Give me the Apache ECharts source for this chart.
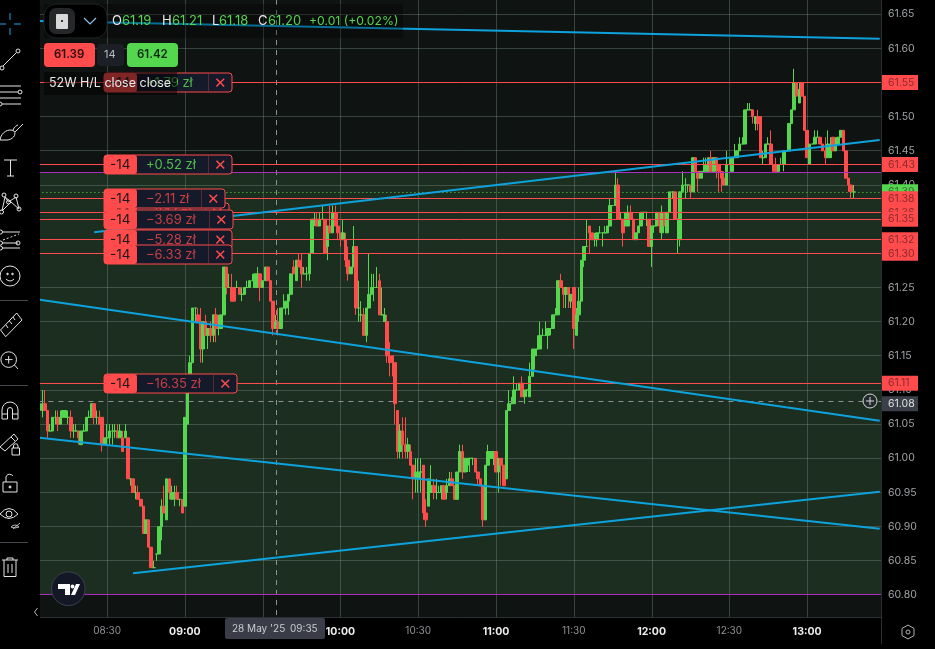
<!DOCTYPE html>
<html>
<head>
<meta charset="utf-8">
<title>Chart</title>
<script src="https://cdn.jsdelivr.net/npm/echarts@6/dist/echarts.min.js"></script>
<style>
  html, body { margin: 0; padding: 0; background: #000; }
  #chart { width: 935px; height: 649px; }
</style>
</head>
<body>
<div id="chart"></div>
<script>
// one row per minute: [open, close, low, high], in cents above 60.00
const bars0804 = [
  [107,108,106,110],[107,108,106,110],[108,107,107,110],[107,104,103,107],[104,104,104,105],
  [104,106,104,106],[106,106,105,107],[106,105,104,107],[105,106,105,107],[106,107,106,107],
  [106,107,106,107],[106,106,105,107],[106,104,103,107],[104,104,103,105],[104,104,104,105],
  [104,103,102,104],[102,104,102,104],[104,104,104,105],[104,106,104,106],[106,106,106,107],
  [106,108,106,108],[108,106,105,108],[106,106,105,107],[106,105,105,107],[106,102,101,106],
  [102,103,102,103]
]
const bars0830 = [
  [103,103,102,105],[103,104,102,105],[104,104,102,105],[104,104,103,105],[104,103,103,105],
  [103,104,103,105],[103,101,101,104],[103,104,103,105],[103,97,97,103],[97,97,96,97],
  [97,95,95,97],[95,95,94,96],[95,94,94,96],[94,93,93,94],[93,89,89,93],
  [89,91,89,91],[91,87,87,91],[87,84,84,87],[84,84,84,85],[86,86,85,86],
  [86,90,86,90],[90,93,88,94],[93,92,92,96],[91,97,91,97],[97,95,94,97],
  [94,95,94,96],[95,95,93,96],[95,94,94,96],[94,94,93,94],[94,92,92,94]
]
const bars0900 = [
  [93,106,93,106],[105,110,105,110],[110,114,110,115],[114,122,114,122],[122,122,120,122],
  [121,120,120,122],[120,116,114,122],[116,120,114,120],[120,118,118,121],[118,119,116,119],
  [119,118,117,120],[118,121,117,121],[121,119,117,122],[119,119,118,121],[119,121,119,121],
  [121,128,121,128],[128,125,124,128],[125,125,125,127],[125,123,123,127],[125,123,123,125],
  [125,125,125,126],[125,124,124,125],[124,124,123,125],[124,125,124,125],[125,125,125,126],
  [125,126,125,126],[126,126,126,127],[125,127,125,127],[125,127,125,128],[127,125,123,127]
]
const bars0930 = [
  [125,126,125,126],[126,128,126,128],[128,126,126,128],[126,123,123,126],[123,119,118,123],
  [119,120,119,121],[120,119,118,122],[119,122,119,122],[122,122,122,124],[122,123,121,123],
  [123,124,121,124],[124,127,124,127],[128,127,127,129],[126,129,126,129],[129,128,128,130],
  [128,127,125,130],[127,127,127,128],[127,127,126,128],[127,130,126,130],[130,135,130,135],
  [135,135,134,136],[135,134,134,136],[134,135,134,136],[135,135,135,137],[135,130,130,135],
  [131,134,129,134],[134,133,133,137],[133,136,133,137],[136,134,134,137],[134,133,132,136]
]
const bars1000 = [
  [133,132,131,133],[132,133,132,135],[132,129,128,133],[129,127,126,131],[127,128,127,128],
  [128,131,128,134],[131,122,121,131],[122,122,120,126],[121,121,120,123],[121,118,118,122],
  [118,122,117,122],[122,124,122,130],[124,125,124,127],[125,125,123,127],[125,125,125,128],
  [126,121,121,127],[121,121,121,125],[120,121,120,122],[120,115,114,121],[115,114,112,117],
  [115,114,112,115],[114,108,105,114],[107,101,100,107],[101,104,100,105],[104,102,100,106],
  [102,101,100,106],[101,102,100,103],[101,99,99,102],[99,97,94,99],[97,98,95,100]
]
const bars1030 = [
  [97,98,95,100],[98,98,95,100],[99,92,91,99],[92,91,90,94],[93,97,93,97],
  [95,96,95,99],[96,95,94,97],[95,95,94,97],[95,95,95,96],[95,96,94,96],
  [96,94,94,96],[95,96,94,97],[96,97,96,98],[97,96,96,98],[96,94,94,96],
  [94,98,94,98],[98,101,98,102],[101,98,97,102],[98,100,98,100],[99,100,98,100],
  [100,100,98,100],[100,100,99,100],[100,98,98,100],[98,97,96,98],[97,96,96,97],
  [96,91,90,96],[91,99,91,99],[99,101,99,102],[100,101,100,101],[100,101,99,101]
]
const bars1100 = [
  [101,98,98,101],[98,100,95,100],[100,99,96,100],[99,96,96,99],[97,107,97,107],
  [107,108,107,110],[108,108,108,109],[108,110,108,112],[110,110,110,111],[110,111,110,111],
  [111,109,109,112],[109,110,108,110],[110,110,109,110],[109,112,109,114],[112,116,112,116],
  [115,116,113,116],[116,116,116,118],[116,118,116,120],[118,118,118,119],[118,118,118,120],
  [118,119,116,119],[119,119,118,119],[119,121,119,121],[121,121,121,122],[121,126,121,126],
  [126,125,125,127],[125,124,122,125],[124,125,122,125],[125,124,122,125],[123,124,122,124]
]
const bars1130 = [
  [125,119,116,125],[118,121,118,122],[121,123,120,125],[123,129,123,129],[129,131,128,131],
  [131,131,131,135],[134,133,130,134],[133,132,132,133],[132,132,131,133],[132,133,131,133],
  [133,133,133,134],[133,133,131,133],[133,133,133,134],[133,134,133,134],[134,137,134,138],
  [137,137,137,137],[137,140,137,142],[140,135,135,141],[135,135,135,136],[135,133,131,135],
  [134,136,134,136],[134,136,134,137],[136,135,135,137],[135,132,132,135],[132,133,132,133],
  [133,134,133,134],[134,136,134,136],[136,136,135,136],[136,136,134,136],[135,131,131,135]
]
const bars1200 = [
  [131,134,128,134],[134,134,133,134],[134,136,134,136],[136,134,133,136],[133,136,132,137],
  [136,134,134,136],[133,136,133,136],[136,139,136,139],[139,139,138,139],[139,135,135,139],
  [135,135,130,135],[132,139,131,139],[139,140,139,142],[140,140,138,141],[140,140,139,140],
  [140,139,138,140],[139,144,139,144],[144,142,142,144],[142,141,139,142],[141,142,141,142],
  [142,142,142,144],[142,143,142,144],[142,144,142,144],[144,142,142,145],[142,144,142,144],
  [144,143,141,144],[143,142,139,143],[142,141,139,142],[141,140,140,142],[140,143,140,145]
]
const bars1230 = [
  [143,143,143,144],[142,144,142,144],[144,144,144,146],[144,145,144,145],[145,146,145,147],
  [146,146,146,147],[146,151,146,151],[151,151,151,152],[151,151,151,152],[151,150,149,151],
  [149,150,148,150],[150,149,148,151],[150,144,144,150],[144,144,143,145],[144,146,144,146],
  [146,146,146,147],[146,143,143,148],[143,142,142,143],[143,142,142,144],[142,143,142,143],
  [143,143,143,144],[143,145,142,145],[145,145,145,145],[145,149,145,149],[149,151,149,151],
  [151,155,151,157],[155,153,153,155],[152,154,152,155],[155,153,153,155],[153,148,148,153]
]
const bars1300 = [
  [148,144,144,148],[143,146,143,146],[146,146,146,146],[146,147,146,148],[147,147,147,148],
  [147,146,146,147],[146,145,145,146],[145,144,143,147],[144,146,144,148],[144,146,144,147],
  [147,145,145,147],[145,146,145,147],[146,147,146,147],[147,148,147,148],[148,145,145,148],
  [145,141,141,145],[141,140,139,141],[140,139,138,140],[139,139,138,140]
]

const yTicks = [60.80,60.85,60.90,60.95,61.00,61.05,61.10,61.15,61.20,61.25,61.30,61.35,61.40,61.45,61.50,61.55,61.60,61.65]
const timeMarks = ['08:30','09:00','09:30','10:00','10:30','11:00','11:30','12:00','12:30','13:00']
const timeLabels = ['08:30','09:00','10:00','10:30','11:00','11:30','12:00','12:30','13:00']
const boldLabels = ['09:00','10:00','11:00','12:00','13:00']

// open positions: price line and pnl text
const positionPrices = [61.55, 61.43, 61.38, 61.36, 61.35, 61.32, 61.30, 61.11]
const positionPnl = ['+1.79 zł', '+0.52 zł', '−2.11 zł', '−3.17 zł', '−3.69 zł', '−5.28 zł', '−6.33 zł', '−16.35 zł']

const lastPrice = 61.389
const crossPrice = 61.083
const crossTime = '09:35'
const zoneTop = 61.418
const zoneBottom = 60.80

// trend lines drawn on the chart: [time, price] at both ends
const trendTop = [['08:04', 61.640], ['13:28', 61.614]]
const trendRising = [['08:25', 61.331], ['13:28', 61.466]]
const trendFalling = [['08:04', 61.232], ['13:28', 61.055]]
const trendLower = [['08:04', 61.030], ['13:28', 60.897]]
const trendBase = [['08:40', 60.832], ['13:28', 60.951]]

const UP = '#55d64f'
const DOWN = '#ff4b4b'
const BLUE = '#0ea2dc'
const GRID_LINE = 'rgba(125,145,135,0.38)'
const PURPLE = '#ac2cc0'
const FONT = 'Inter, "Noto Sans", sans-serif'
const Y_MIN = 60.8 - 22 / 683.3
const Y_MAX = 60.8 + 595 / 683.3

const times = []
for (let i = 0; i < 325; i++) {
  const t = 8 * 60 + 4 + i
  times.push(String(Math.floor(t / 60)).padStart(2, '0') + ':' + String(t % 60).padStart(2, '0'))
}

const rows = [].concat(bars0804, bars0830, bars0900, bars0930, bars1000, bars1030, bars1100, bars1130, bars1200, bars1230, bars1300)
const candles = rows.map(r => r.map(v => +(60 + v / 100).toFixed(2)))

const trendSeries = data => ({
  type: 'line',
  data,
  z: 5,
  silent: true,
  symbol: 'none',
  lineStyle: { color: BLUE, width: 2 },
  clip: true
})

// price lines snapped to whole pixels so they stay crisp
const priceLines = (prices, color, z, lineDash) => ({
  type: 'custom',
  coordinateSystem: 'cartesian2d',
  data: prices.map(p => [times[0], p]),
  z,
  silent: true,
  renderItem: (params, api) => {
    const y = Math.floor(api.coord([api.value(0), api.value(1)])[1]) + 0.5
    const cs = params.coordSys
    return {
      type: 'line',
      shape: { x1: cs.x, y1: y, x2: cs.x + cs.width, y2: y },
      style: { stroke: color, lineWidth: 1, lineDash: lineDash || null, fill: null }
    }
  }
})

const timeLines = (marks, color, z, lineDash) => ({
  type: 'custom',
  coordinateSystem: 'cartesian2d',
  data: marks.map(t => [t, Y_MIN]),
  z,
  silent: true,
  renderItem: (params, api) => {
    const x = Math.round(api.coord([api.value(0), Y_MIN])[0]) + 0.5
    const cs = params.coordSys
    return {
      type: 'line',
      shape: { x1: x, y1: cs.y, x2: x, y2: cs.y + cs.height },
      style: { stroke: color, lineWidth: 1, lineDash: lineDash || null, fill: null }
    }
  }
})

const priceTag = (price, bg, fg) => ({
  yAxis: price,
  lineStyle: { color: 'transparent', width: 0 },
  label: {
    show: true,
    position: 'end',
    distance: 0,
    formatter: price.toFixed(2),
    backgroundColor: bg,
    color: fg,
    fontFamily: FONT,
    fontSize: 10.5,
    width: 30,
    height: 15,
    lineHeight: 15,
    padding: [0, 0, 0, 7]
  }
})

const chart = echarts.init(document.getElementById('chart'))

chart.setOption({
  animation: false,
  backgroundColor: '#000',
  grid: { left: 38.4, right: 54, top: 0, bottom: 32, show: true, backgroundColor: '#0f1413', borderWidth: 0 },
  xAxis: {
    type: 'category',
    data: times,
    axisLine: { show: true, lineStyle: { color: '#2b3034' } },
    axisTick: { show: false },
    splitLine: { show: false },
    axisLabel: {
      interval: (i, v) => timeLabels.includes(v),
      margin: 9,
      color: '#8f9296',
      fontFamily: FONT,
      fontSize: 10,
      formatter: v => boldLabels.includes(v) ? '{b|' + v + '}' : v,
      rich: { b: { color: '#eeeeee', fontWeight: 700, fontFamily: FONT, fontSize: 10.5 } }
    }
  },
  yAxis: {
    type: 'value',
    position: 'right',
    min: Y_MIN,
    max: Y_MAX,
    axisLine: { show: false },
    axisTick: { show: false },
    splitLine: { show: false },
    axisLabel: {
      customValues: yTicks,
      formatter: v => v.toFixed(2),
      margin: 7,
      color: '#a0a3a6',
      fontFamily: FONT,
      fontSize: 10.5
    }
  },
  series: [
    {
      type: 'line',
      data: [],
      silent: true,
      markArea: {
        silent: true,
        itemStyle: { color: '#1c2e20' },
        data: [[{ yAxis: zoneTop }, { yAxis: zoneBottom }]]
      }
    },
    priceLines(yTicks, GRID_LINE, 2),
    timeLines(timeMarks, GRID_LINE, 2),
    {
      type: 'candlestick',
      data: candles,
      z: 3,
      barWidth: 3,
      silent: true,
      itemStyle: {
        color: UP,
        color0: DOWN,
        borderColor: UP,
        borderColor0: DOWN,
        borderColorDoji: UP,
        borderWidth: 1
      }
    },
    priceLines([crossPrice], '#8d9290', 4, [5, 5]),
    timeLines([crossTime], '#8d9290', 4, [5, 5]),
    priceLines([zoneTop, zoneBottom], PURPLE, 4),
    priceLines([lastPrice], UP, 4, [1, 3]),
    priceLines(positionPrices, DOWN, 4),
    trendSeries(trendTop),
    trendSeries(trendRising),
    trendSeries(trendFalling),
    trendSeries(trendLower),
    trendSeries(trendBase),
    {
      // the tags on the price scale
      type: 'line',
      data: [],
      z: 6,
      silent: true,
      markLine: {
        silent: true,
        symbol: 'none',
        label: { show: false },
        data: [
          priceTag(lastPrice, UP, '#3a6a35'),
          priceTag(61.36, DOWN, '#8c2a2e'),
          priceTag(61.55, DOWN, '#8c2a2e'),
          priceTag(61.43, DOWN, '#8c2a2e'),
          priceTag(61.35, DOWN, '#8c2a2e'),
          priceTag(61.38, DOWN, '#8c2a2e'),
          priceTag(61.32, DOWN, '#8c2a2e'),
          priceTag(61.30, DOWN, '#8c2a2e'),
          priceTag(61.11, DOWN, '#8c2a2e'),
          priceTag(crossPrice, '#3a3f4a', '#e0e0e0')
        ]
      }
    }
  ]
})

// --- drawing helpers for the surrounding trading UI ---
const Z = 50
const STROKE = { stroke: '#e4e4e4', fill: 'none', lineWidth: 1 }
let pathCount = 0

const seg = (x1, y1, x2, y2, style) => ({ type: 'line', z: Z, silent: true, shape: { x1, y1, x2, y2 }, style: Object.assign({}, STROKE, style) })
const ring = (cx, cy, r, style) => ({ type: 'circle', z: Z, silent: true, shape: { cx, cy, r }, style: Object.assign({}, STROKE, style) })
const box = (x, y, width, height, fill, r, z, extra) => ({
  type: 'rect', z: z || Z, silent: true, shape: { x, y, width, height, r: r || 0 },
  style: Object.assign({ fill }, extra)
})
const path = (d, style, z) => {
  const type = 'iconPath' + pathCount++
  echarts.graphic.registerShape(type, echarts.graphic.extendPath(d, {}))
  return { type, z: z || Z, silent: true, style: Object.assign({}, STROKE, style) }
}
const label = (x, y, text, fill, size, z, extra) => ({
  type: 'text', z: z || Z + 5, silent: true, x, y,
  style: Object.assign({ text, fill, fontSize: size, fontFamily: FONT, verticalAlign: 'middle' }, extra)
})

const toolbar = [
  box(0, 0, 40, 649, '#000'),
  // crosshair
  ...[[0, 24, 6, 24], [14, 24, 21, 24], [10, 13, 10, 20], [10, 28, 10, 35]].map(s => seg(...s, { stroke: '#18a6e0' })),
  // trend line
  seg(3, 66, 16, 53), ring(2, 68, 2), ring(18, 51, 2),
  // parallel lines
  seg(0, 86, 21, 86), seg(0, 92, 18, 92), ring(20, 92, 2), seg(0, 98, 21, 98), seg(2, 104, 21, 104), ring(0, 104, 2),
  // brush
  path('M0 140 C1 132 9 128 14 131 C17 135 12 140 7 140 Z M13 130 C14 127 17 125 18 125 M15 132 L23 124'),
  // text tool
  seg(4, 160, 17, 160), seg(10.5, 160, 10.5, 176), seg(7, 176, 14, 176),
  // nodes
  path('M2 211 L5 197 L8.5 202 L16 197 L19 209 L11 202 L2 211 M5 197 L11 202'),
  ring(4, 195, 2), ring(16, 196, 2), ring(8.5, 202, 2), ring(1.5, 212, 2), ring(19, 209, 2),
  // fib lines
  seg(2, 232, 20, 232), seg(2, 243, 18, 243), seg(2, 248, 20, 248), seg(3, 240, 19, 234, { lineDash: [2, 2] }),
  ring(0.5, 232, 2), ring(18, 243, 2), ring(0.5, 243, 2), ring(0.5, 248, 2),
  // smiley
  ring(10, 276, 10), ring(7.5, 274, 0.8, { fill: '#e4e4e4' }), ring(12.5, 274, 0.8, { fill: '#e4e4e4' }),
  path('M6 279 Q10 283 14 279'),
  seg(0, 300.5, 28, 300.5, { stroke: '#45484d' }),
  // ruler
  path('M16.7 313 L22 320 L5.7 336.7 L0.5 330 Z M13 317 L15 320 M9.5 321 L12 324 M6 325 L8 328'),
  // zoom
  ring(8.7, 359.6, 7.8), seg(14.5, 365, 18, 369), seg(5, 359.6, 12.5, 359.6), seg(8.7, 356, 8.7, 363.5),
  seg(0, 385.5, 28, 385.5, { stroke: '#45484d' }),
  // magnet
  path('M2 419 L2 410 A8 8 0 0 1 18 410 L18 419 L12.5 419 L12.5 410 A2.5 2.5 0 0 0 7.5 410 L7.5 419 Z M2 414 L7.5 414 M12.5 414 L18 414'),
  // pencil with small lock
  path('M0 447 L14 434 L18 439 L5 451 Z M11 437 L15 441'),
  path('M12 448 L19.5 448 L19.5 455 L12 455 Z M13.5 448 L13.5 446 A2.2 2.2 0 0 1 18 446 L18 448'),
  // lock
  path('M3 482 L17 482 L17 492 L3 492 Z M6 482 L6 477 A4 4 0 0 1 13 476'), ring(10, 487, 1, { fill: '#e4e4e4' }),
  // eye
  path('M0 514 Q9 503 18 514 Q9 523 0 514 Z'), ring(9, 514, 3),
  path('M11 527 Q15 523 19 527 Q15 529 11 527 M13 529 L20 523', { lineWidth: 0.8 }),
  seg(0, 542.5, 28, 542.5, { stroke: '#45484d' }),
  // trash
  path('M2 560 L18 560 M7 560 L7 558 L13 558 L13 560 M4 560 L4 576.5 L16 576.5 L16 560 M8 564 L8 573 M12 564 L12 573'),
  // collapse arrow
  path('M37.5 608 L34.5 612 L37.5 616', { stroke: '#b5b5b5' })
]

const bottomBar = [
  seg(881.5, 0, 881.5, 644, { stroke: '#2b3034' }),
  box(225, 618, 100, 21, '#3a3d47', 2),
  label(232, 628.5, "28 May '25", '#c9cbd0', 10),
  label(290, 628.5, crossTime, '#c9cbd0', 10),
  path('M908 625 L914 628.5 L914 635.5 L908 639 L902 635.5 L902 628.5 Z', { stroke: '#b0b2b5' }),
  ring(908, 632, 2, { stroke: '#b0b2b5' }),
  // crosshair plus button
  ring(870, 401, 7, { stroke: '#d8d8d8', fill: '#222a2e' }),
  seg(866, 401, 874, 401, { stroke: '#d8d8d8' }),
  seg(870, 397, 870, 405, { stroke: '#d8d8d8' }),
  // logo badge
  ring(68.3, 588.7, 16.8, { stroke: '#3b4050', fill: '#141826', lineWidth: 1 }),
  path('M58 584 L70 584 L70 595 L65 595 L65 589 L58 589 Z M71 595 L76 584 L80 584 L75 595 Z', { stroke: 'none', fill: '#fff' }),
  ring(72.5, 586.5, 1.9, { stroke: 'none', fill: '#fff' })
]

// tag geometry: width, top and stacking order of each position row
const tagWidths = [128, 128, 121, 125, 129, 128, 128, 133]
const tagTops = [73, 155, 189, 203, 210, 230, 245, 374]
const tagLayers = [0, 1, 3, 2, 4, 5, 6, 7]

const positionTags = positionPrices.flatMap((price, i) => {
  const top = tagTops[i]
  const w = tagWidths[i]
  const z = Z + 1 + tagLayers[i]
  const xDiv = 104 + w - 24
  const color = positionPnl[i].startsWith('+') ? '#4fc04a' : '#c63f45'
  return [
    box(104, top, w, 19, '#141a2a', 3, z, { stroke: DOWN, lineWidth: 1 }),
    box(104, top, 33, 19, DOWN, 3, z + 0.1),
    Object.assign(seg(xDiv + 0.5, top + 1, xDiv + 0.5, top + 18, { stroke: '#5a2a30' }), { z: z + 0.1 }),
    label(110, top + 10, '-14', '#1b1b1b', 13.5, z + 0.2),
    label(146, top + 10, positionPnl[i], color, 13, z + 0.2),
    label(xDiv + 12, top + 10, '✕', DOWN, 15, z + 0.2, { align: 'center' })
  ]
})

const headerZ = 90
const headerBits = [
  ['O', '#e8e8e8', 112, 13], ['61.19', UP, 122, 13], ['H', '#e8e8e8', 162, 13], ['61.21', UP, 172, 13],
  ['L', '#e8e8e8', 212, 13], ['61.18', UP, 219, 13], ['C', '#e8e8e8', 258, 13], ['61.20', UP, 268, 13],
  ['+0.01 (+0.02%)', UP, 309, 12.2]
]
const header = [
  box(44, 4, 359, 34, 'rgba(0,0,0,0.32)', 0, headerZ),
  box(44, 4, 63, 34, '#000', 12, headerZ, { stroke: '#1e2226', lineWidth: 1 }),
  box(49, 8, 26, 26, '#262729', 7, headerZ + 1),
  box(56, 14, 12, 15, '#d8d8d8', 1, headerZ + 2),
  box(61, 20, 2, 2, '#333', 0, headerZ + 3),
  path('M84 18 L90 24 L96 18', { stroke: '#8fc3ee', lineWidth: 1.2 }, headerZ + 2),
  ...headerBits.map(([t, c, x, s]) => label(x, 21, t, c, s, headerZ + 2)),
  box(44, 43, 51, 24, DOWN, 4, headerZ),
  label(54, 55, '61.39', '#2a0c0c', 11.5, headerZ + 1, { fontWeight: 600 }),
  box(97, 44, 27, 22, '#1c1f26', 4, headerZ),
  label(104, 55, '14', '#b8bcc4', 11, headerZ + 1),
  box(127, 43, 51, 24, UP, 4, headerZ),
  label(137, 55, '61.42', '#0c2a0c', 11.5, headerZ + 1, { fontWeight: 600 }),
  box(44, 72, 133, 23, 'rgba(0,0,0,0.5)', 0, headerZ),
  label(49, 83.5, '52W H/L close close', '#e8e8e8', 12.5, headerZ + 1)
]

chart.setOption({ graphic: { elements: [...toolbar, ...bottomBar, ...positionTags, ...header] } })
</script>
</body>
</html>
